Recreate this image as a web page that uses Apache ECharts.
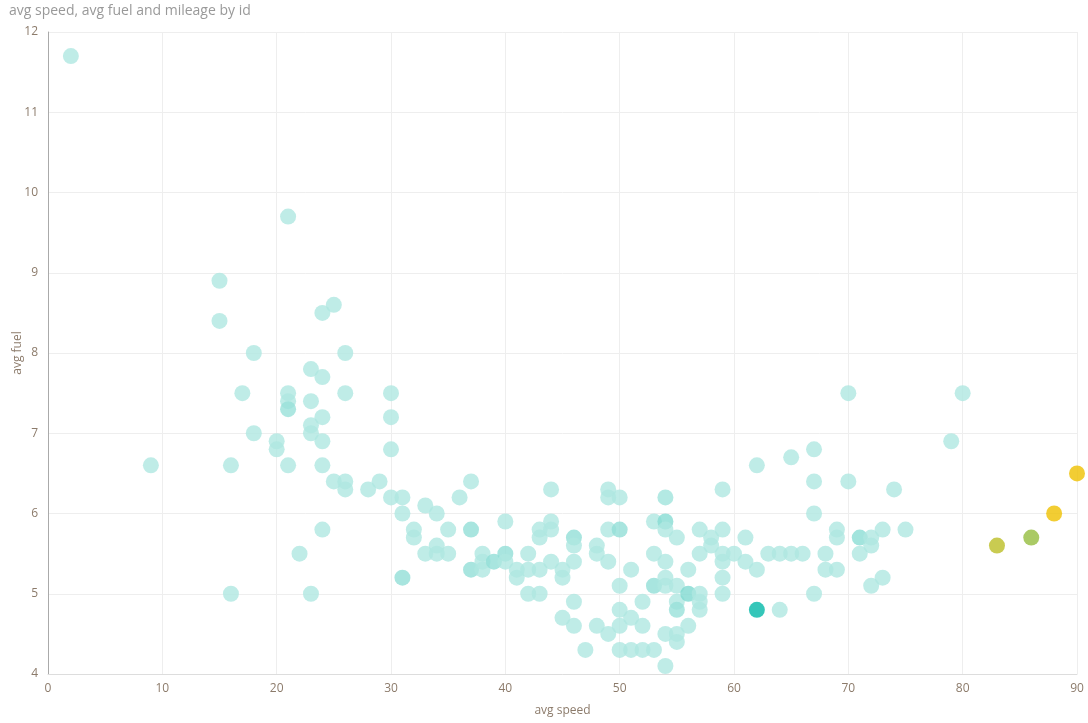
<!DOCTYPE html>
<html>
<head>
<meta charset="utf-8">
<title>avg speed, avg fuel and mileage by id</title>
<style>
    html, body { margin: 0; padding: 0; background: #fff; }
    #chart { width: 1088px; height: 723px; }
</style>
</head>
<body>
<div id="chart"></div>
<script src="https://cdn.jsdelivr.net/npm/echarts@6/dist/echarts.min.js"></script>
<script>
    // one entry per id: avg speed, avg fuel, mileage (mileage drives the colour)
    var speed = [
        2, 9, 15, 15, 16, 16, 17, 18, 18, 20, 20,
        21, 21, 21, 21, 21, 22, 23, 23, 23, 23, 23,
        24, 24, 24, 24, 24, 24, 25, 25, 26, 26, 26, 26,
        28, 29, 30, 30, 30, 30, 31, 31, 31, 32, 32,
        33, 33, 34, 34, 34, 35, 35, 36, 37, 37, 37,
        38, 38, 38, 39, 40, 40, 40, 41, 41, 42, 42, 42,
        43, 43, 43, 43, 44, 44, 44, 44, 45, 45, 45,
        46, 46, 46, 46, 46, 47, 48, 48, 48,
        49, 49, 49, 49, 49, 50, 50, 50, 50, 50, 50,
        51, 51, 51, 52, 52, 52, 53, 53, 53, 53,
        54, 54, 54, 54, 54, 54, 54, 54,
        55, 55, 55, 55, 55, 55, 56, 56, 56,
        57, 57, 57, 57, 57, 58, 58,
        59, 59, 59, 59, 59, 59, 60, 61, 61,
        62, 62, 62, 63, 64, 64, 65, 65, 66,
        67, 67, 67, 67, 68, 68, 69, 69, 69,
        70, 70, 71, 71, 72, 72, 72, 73, 73, 74, 75,
        79, 80, 83, 86, 88, 90
    ];
    var fuel = [
        11.7, 6.6, 8.9, 8.4, 6.6, 5.0, 7.5, 8.0, 7.0, 6.9, 6.8,
        9.7, 7.5, 7.4, 7.3, 6.6, 5.5, 7.8, 7.4, 7.1, 7.0, 5.0,
        8.5, 7.7, 7.2, 6.9, 6.6, 5.8, 8.6, 6.4, 8.0, 7.5, 6.4, 6.3,
        6.3, 6.4, 7.5, 7.2, 6.8, 6.2, 6.2, 6.0, 5.2, 5.8, 5.7,
        6.1, 5.5, 6.0, 5.6, 5.5, 5.8, 5.5, 6.2, 6.4, 5.8, 5.3,
        5.5, 5.4, 5.3, 5.4, 5.9, 5.5, 5.4, 5.3, 5.2, 5.5, 5.3, 5.0,
        5.8, 5.7, 5.3, 5.0, 6.3, 5.9, 5.8, 5.4, 5.3, 5.2, 4.7,
        5.7, 5.6, 5.4, 4.9, 4.6, 4.3, 5.6, 5.5, 4.6,
        6.3, 6.2, 5.8, 5.4, 4.5, 6.2, 5.8, 5.1, 4.8, 4.6, 4.3,
        5.3, 4.7, 4.3, 4.9, 4.6, 4.3, 5.9, 5.5, 5.1, 4.3,
        6.2, 5.9, 5.8, 5.4, 5.2, 5.1, 4.5, 4.1,
        5.7, 5.1, 4.9, 4.8, 4.5, 4.4, 5.3, 5.0, 4.6,
        5.8, 5.5, 5.0, 4.9, 4.8, 5.7, 5.6,
        6.3, 5.8, 5.5, 5.4, 5.2, 5.0, 5.5, 5.7, 5.4,
        6.6, 5.3, 4.8, 5.5, 5.5, 4.8, 6.7, 5.5, 5.5,
        6.8, 6.4, 6.0, 5.0, 5.5, 5.3, 5.8, 5.7, 5.3,
        7.5, 6.4, 5.7, 5.5, 5.7, 5.6, 5.1, 5.8, 5.2, 6.3, 5.8,
        6.9, 7.5, 5.6, 5.7, 6.0, 6.5
    ];
    var mileage = [
        2, 2, 2, 2, 2, 2, 2, 2, 2, 2, 2,
        2, 2, 2, 8, 2, 2, 2, 2, 2, 2, 2,
        2, 2, 2, 2, 2, 2, 2, 2, 2, 2, 2, 2,
        2, 2, 2, 2, 2, 2, 2, 2, 10, 2, 2,
        2, 2, 2, 2, 2, 2, 2, 2, 2, 10, 10,
        2, 2, 2, 10, 2, 10, 2, 2, 2, 2, 2, 2,
        2, 2, 2, 2, 2, 2, 2, 2, 2, 2, 2,
        10, 2, 2, 2, 2, 2, 2, 2, 2,
        2, 2, 2, 2, 2, 2, 10, 2, 2, 2, 2,
        2, 2, 2, 2, 2, 2, 2, 2, 10, 2,
        6, 13, 2, 2, 2, 2, 2, 2,
        2, 2, 2, 8, 2, 2, 2, 15, 2,
        2, 2, 2, 2, 2, 2, 2,
        2, 2, 2, 2, 2, 2, 2, 2, 2,
        2, 2, 50, 2, 2, 2, 2, 2, 2,
        2, 2, 2, 2, 2, 2, 2, 2, 2,
        2, 2, 12, 2, 2, 2, 2, 2, 2, 2, 2,
        2, 2, 89, 81, 100, 100
    ];

    var points = [];
    for (var i = 0; i < speed.length; i++) {
        points.push([speed[i], fuel[i], mileage[i]]);
    }

    var labelColor = '#8c7b6b';
    var chart = echarts.init(document.getElementById('chart'));
    var option = {
        animation: false,
        textStyle: { fontFamily: 'Open Sans' },
        title: {
            text: 'avg speed, avg fuel and mileage by id',
            left: 4,
            top: -1,
            textStyle: { fontSize: 14, fontWeight: 'normal', color: '#999999', fontFamily: 'Open Sans' }
        },
        grid: { left: 48, right: 11, top: 32, bottom: 49, outerBoundsMode: 'none' },
        visualMap: {
            show: false,
            type: 'continuous',
            dimension: 2,
            min: 0,
            max: 100,
            inRange: { color: ['#b6e9e3', '#02b8a7', '#efc000'] }
        },
        xAxis: {
            type: 'value',
            min: 0,
            max: 90,
            interval: 10,
            name: 'avg speed',
            nameLocation: 'middle',
            nameGap: 31,
            nameTextStyle: { color: labelColor, fontSize: 12 },
            axisLine: { onZero: false, lineStyle: { color: '#dddddd' } },
            axisTick: { show: false },
            axisLabel: { color: labelColor, fontSize: 12, margin: 9 },
            splitLine: { lineStyle: { color: '#eeeeee' } }
        },
        yAxis: {
            type: 'value',
            min: 4,
            max: 12,
            interval: 1,
            name: 'avg fuel',
            nameLocation: 'middle',
            nameGap: 24,
            nameMoveOverlap: false,
            nameTextStyle: { color: labelColor, fontSize: 12 },
            axisLine: { show: true, lineStyle: { color: '#aaaaaa' } },
            axisTick: { show: false },
            axisLabel: { color: labelColor, fontSize: 12, margin: 10 },
            splitLine: { lineStyle: { color: '#eeeeee' } }
        },
        series: [{
            type: 'scatter',
            symbolSize: 16,
            itemStyle: { opacity: 0.8 },
            data: points
        }]
    };
    chart.setOption(option);
</script>
</body>
</html>
